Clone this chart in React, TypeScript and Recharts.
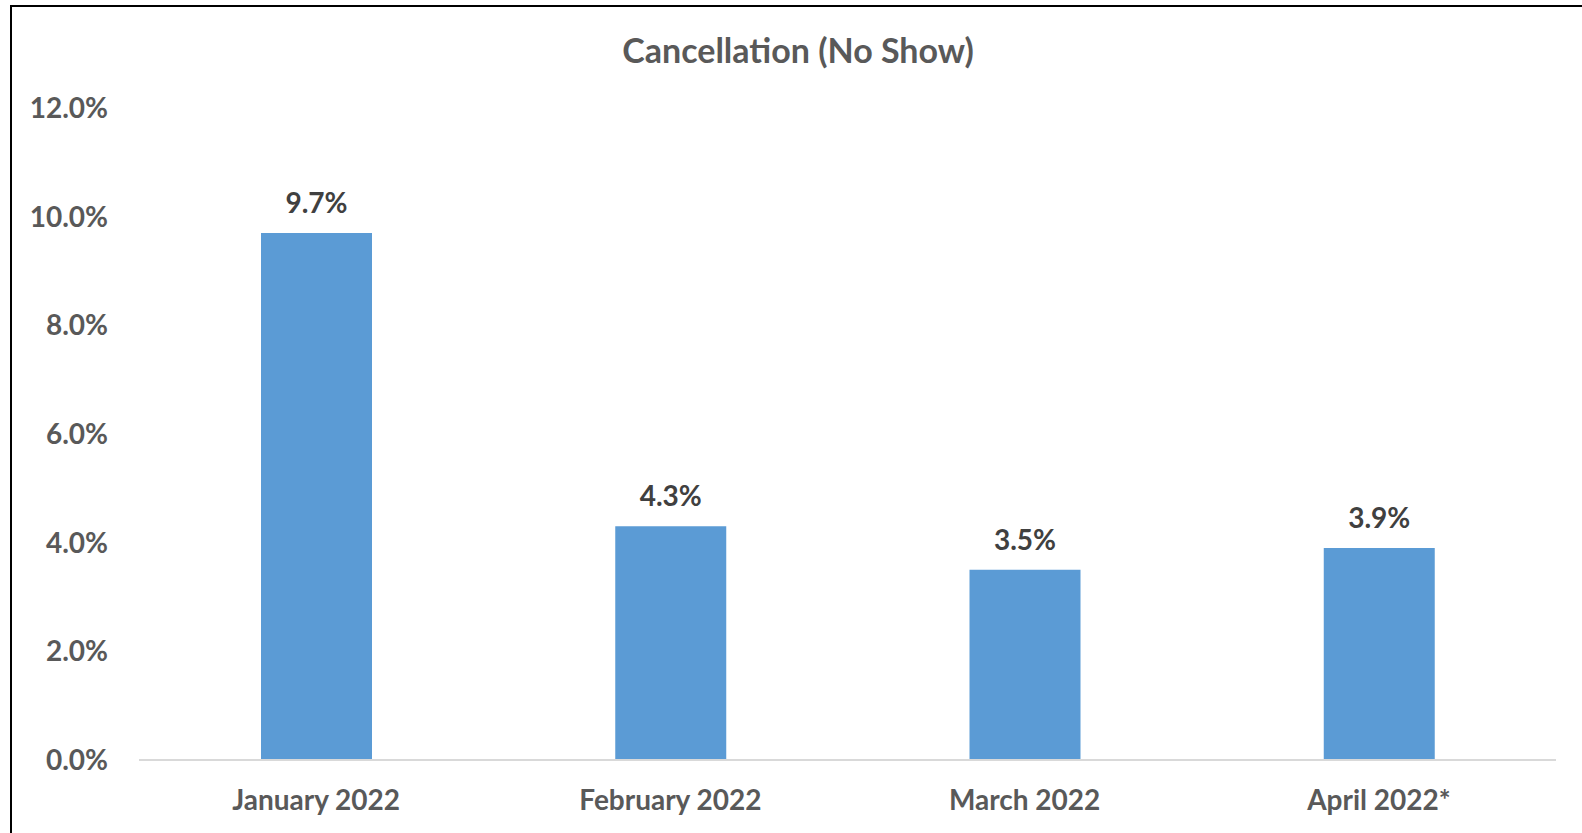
import { BarChart, Bar, XAxis, YAxis, LabelList } from 'recharts';

const months = ['January 2022', 'February 2022', 'March 2022', 'April 2022*'];
const noShowRate = [9.7, 4.3, 3.5, 3.9];
const yTicks = [0, 2, 4, 6, 8, 10, 12];

const chartData = months.map((month, i) => ({ month, rate: noShowRate[i] }));

const FONT = 'Lato, "Open Sans", sans-serif';
const TEXT = '#595959';

export default function App() {
  return (
    <div
      style={{
        position: 'absolute',
        left: 0,
        top: 0,
        width: 1582,
        height: 833,
        background: '#fff',
        overflow: 'hidden',
        fontFamily: FONT,
      }}
    >
      {/* frame: only top + left edges show in the crop */}
      <div
        style={{
          position: 'absolute',
          left: 10,
          top: 5,
          width: 1600,
          height: 900,
          borderLeft: '2px solid #000',
          borderTop: '2px solid #000',
          boxSizing: 'border-box',
        }}
      />
      <div
        style={{
          position: 'absolute',
          left: 0,
          top: 30,
          width: 1596,
          textAlign: 'center',
          fontSize: 34,
          fontWeight: 700,
          color: TEXT,
          lineHeight: '40px',
        }}
      >
        Cancellation (No Show)
      </div>
      <div style={{ position: 'absolute', left: 0, top: 0 }}>
        <BarChart
          width={1582}
          height={833}
          data={chartData}
          margin={{ top: 108, right: 26, bottom: 0, left: 0 }}
          barSize={111}
        >
          <XAxis
            dataKey="month"
            stroke="#d9d9d9"
            strokeWidth={2}
            tickLine={false}
            tickSize={0}
            tickMargin={30}
            height={73}
            tick={{ fill: TEXT, fontSize: 28, fontWeight: 700, fontFamily: FONT }}
          />
          <YAxis
            domain={[0, 12]}
            ticks={yTicks}
            axisLine={false}
            tickLine={false}
            tickSize={0}
            tickMargin={31}
            width={139}
            tickFormatter={(v: number) => `${v.toFixed(1)}%`}
            tick={{ fill: TEXT, fontSize: 28, fontWeight: 700, fontFamily: FONT }}
          />
          <Bar dataKey="rate" fill="#5b9bd5" isAnimationActive={false}>
            <LabelList
              dataKey="rate"
              position="top"
              offset={20}
              formatter={(v: number) => `${v.toFixed(1)}%`}
              style={{ fill: '#404040', fontSize: 28, fontWeight: 700, fontFamily: FONT }}
            />
          </Bar>
        </BarChart>
      </div>
    </div>
  );
}
